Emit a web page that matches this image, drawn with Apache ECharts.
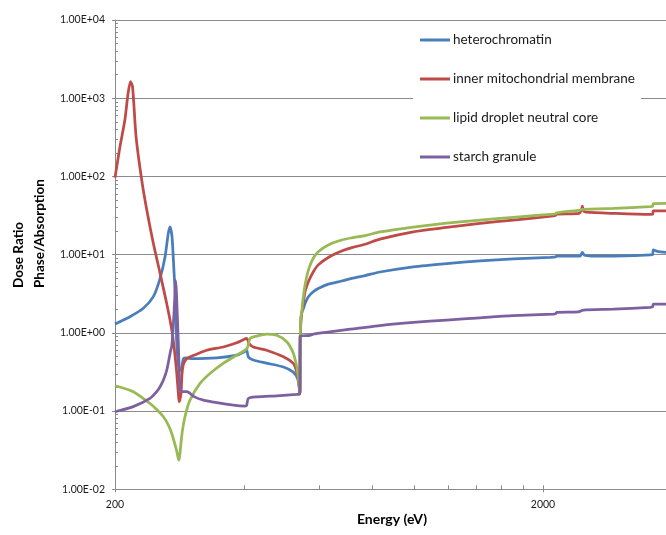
<!DOCTYPE html>
<html>
<head>
<meta charset="utf-8">
<script src="https://cdn.jsdelivr.net/npm/echarts@6.0.0/dist/echarts.min.js"></script>
<style>
html,body{margin:0;padding:0;background:#fff;}
#chart{width:666px;height:535px;}
</style>
</head>
<body>
<div id="chart"></div>
<script>
// ---- data: [energy (eV), dose ratio] ----
const seriesNames = ['heterochromatin', 'inner mitochondrial membrane', 'lipid droplet neutral core', 'starch granule'];

const heterochromatin = [
  [200,1.30],[216.8,1.61],[232.9,2.06],[245.8,2.90],[254.9,4.98],[261.8,9.4],[266.4,18.7],[268.9,22.7],
  [271.8,16.9],[274.6,6.35],[277.2,2.38],[278.4,0.89],[280.5,0.45],[283,0.33],[286,0.36],[289,0.47],
  [292,0.48],[300,0.47],[346,0.48],[385,0.52],[400,0.57],[406,0.60],[410,0.49],[421,0.45],[452,0.41],
  [495,0.366],[522,0.315],[534,0.26],[539,0.20],[541,0.17],[542,0.9],[544,1.5],[547,1.86],[552,2.1],
  [556,2.38],[566,2.9],[581,3.36],[597,3.7],[630,4.2],[677,4.6],[715,4.98],[768,5.4],[832,6.0],
  [995,7.0],[1191,7.7],[1425,8.3],[1705,8.8],[2076,9.24],[2140,9.35],[2150,9.6],[2440,9.6],
  [2472,10.7],[2500,9.8],[2600,9.6],[2919,9.6],[3557,9.9],[3608,10.0],[3620,11.5],[3700,11.0],[3900,10.7]
];

const innerMitochondrialMembrane = [
  [200,96],[205.4,240],[210.9,526],[214.6,1155],[217.4,1625],[219.8,1403],[224,322],[230.9,90],
  [237.3,37.2],[245.8,14.0],[254.9,5.77],[264.1,2.38],[268.9,1.46],[273,0.89],[278.4,0.334],
  [281.2,0.168],[282.4,0.131],[283.6,0.14],[285.3,0.168],[286.9,0.303],[289.5,0.407],[295.2,0.476],
  [306.6,0.52],[327.6,0.60],[358,0.66],[385,0.746],[400,0.824],[406,0.85],[409,0.80],[411,0.734],
  [421,0.66],[452,0.60],[495,0.494],[522,0.407],[530,0.334],[536,0.26],[541,0.17],[542,0.9],
  [544,1.5],[547,1.9],[552,2.6],[556,3.36],[566,4.5],[581,6.0],[597,7.4],[630,9.2],[677,11.1],
  [715,12.3],[768,13.6],[832,15.8],[995,19.6],[1191,22.3],[1425,25.1],[1705,27.7],[2114,31.2],
  [2140,31.8],[2150,33.0],[2430,33.7],[2462,38],[2472,41.8],[2485,36.5],[2520,35.0],[2919,33.7],
  [3557,32.7],[3608,32.8],[3620,36.4],[3900,36.4]
];

const lipidDropletNeutralCore = [
  [200,0.211],[220.6,0.177],[241.4,0.125],[250.3,0.105],[259.5,0.0846],[266.5,0.0662],[271.3,0.052],
  [278.4,0.0317],[281,0.025],[282.2,0.0236],[283.5,0.028],[286.9,0.052],[291.4,0.0846],[299.4,0.138],
  [316,0.226],[333.4,0.303],[358,0.407],[385,0.52],[402.6,0.60],[408,0.65],[409.8,0.70],[413.6,0.85],
  [428.6,0.91],[452.4,0.966],[477.5,0.93],[503.9,0.77],[522,0.547],[531.7,0.369],[536,0.275],
  [540,0.18],[541,0.17],[542,1.0],[544,1.6],[547,1.9],[548,2.27],[556,4.1],[566,6.35],[581,9.0],
  [597,10.9],[630,13.3],[677,15.4],[715,16.4],[768,17.5],[832,19.5],[995,22.5],[1191,25.3],
  [1425,27.7],[1705,30.0],[2114,33.0],[2140,33.3],[2150,34.2],[2440,37.2],[2472,37.8],[2484,38.0],
  [2919,39.1],[3557,41.0],[3608,41.5],[3620,45.0],[3900,45.3]
];

const starchGranule = [
  [200,0.098],[220.6,0.114],[241.4,0.145],[250.3,0.177],[254.9,0.205],[259.5,0.249],[264.2,0.334],
  [269.9,0.60],[271.3,0.66],[273.6,1.20],[275.7,2.63],[277.2,4.7],[278.4,3.2],[281.2,0.73],
  [283.8,0.186],[286.9,0.177],[294.3,0.177],[306.6,0.152],[321.7,0.138],[345.6,0.128],[377.8,0.119],
  [402.6,0.116],[406,0.118],[409.8,0.145],[428.6,0.152],[477.5,0.157],[531.7,0.163],[540,0.165],
  [541.5,0.91],[571,0.93],[581,0.966],[696,1.10],[832,1.24],[995,1.36],[1191,1.46],[1425,1.56],
  [1705,1.66],[2114,1.74],[2140,1.76],[2152,1.83],[2420,1.86],[2484,1.96],[2919,2.01],[3557,2.12],
  [3608,2.15],[3620,2.33],[3900,2.33]
];

const xMajorTicks = [200, 2000, 20000];
const xMinorTicks = [200,400,600,800,1000,1200,1400,1600,1800,2000,4000,6000,8000,10000,12000,14000,16000,18000,20000];
const yMinorTicks = [];
[0.01,0.1,1,10,100,1000].forEach(function(d){ for (let k = 1; k <= 9; k++) yMinorTicks.push(+(d*k).toPrecision(3)); });
yMinorTicks.push(10000);

const colors = ['#4A7EBB', '#BE4B48', '#98B954', '#7D60A0'];
const seriesData = [heterochromatin, innerMitochondrialMembrane, lipidDropletNeutralCore, starchGranule];

function sci(v) {
  const e = Math.round(Math.log10(v));
  const m = v / Math.pow(10, e);
  return m.toFixed(2) + 'E' + (e < 0 ? '-' : '+') + String(Math.abs(e)).padStart(2, '0');
}

const FONT = 'Lato';
const GRID_COLOR = '#8a8a8a';

const chart = echarts.init(document.getElementById('chart'), null, {renderer: 'canvas'});
chart.setOption({
  animation: false,
  backgroundColor: '#ffffff',
  textStyle: {fontFamily: FONT},
  grid: {left: 115, top: 20, right: -305, height: 469.3, containLabel: false, outerBoundsMode: 'none'},
  xAxis: [{
    type: 'log', logBase: 10, min: 200, max: 20000, position: 'bottom',
    axisLine: {show: true, lineStyle: {color: GRID_COLOR, width: 1}},
    axisTick: {show: true, inside: false, length: 3, customValues: xMajorTicks, lineStyle: {color: GRID_COLOR}},
    axisLabel: {show: true, customValues: xMajorTicks, margin: 10, color: '#1a1a1a', fontFamily: FONT, fontSize: 10.5,
      formatter: function (v) { return String(Math.round(v)); }},
    splitLine: {show: false}
  }, {
    type: 'log', logBase: 10, min: 200, max: 20000, position: 'bottom',
    axisLine: {show: false},
    axisTick: {show: true, inside: true, length: 4, customValues: xMinorTicks, lineStyle: {color: GRID_COLOR}},
    axisLabel: {show: false},
    splitLine: {show: false}
  }],
  yAxis: [{
    type: 'log', logBase: 10, min: 0.01, max: 10000, splitNumber: 6, position: 'left',
    axisLine: {show: true, lineStyle: {color: GRID_COLOR, width: 1}},
    axisTick: {show: true, inside: false, length: 3, lineStyle: {color: GRID_COLOR}},
    axisLabel: {show: true, margin: 10, color: '#1a1a1a', fontFamily: FONT, fontSize: 10.5,
      formatter: function (v) { return sci(v); }},
    splitLine: {show: true, lineStyle: {color: GRID_COLOR, width: 1}}
  }, {
    type: 'log', logBase: 10, min: 0.01, max: 10000, position: 'left', offset: 0,
    axisLine: {show: false},
    axisTick: {show: true, inside: true, length: 3, customValues: yMinorTicks, lineStyle: {color: GRID_COLOR}},
    axisLabel: {show: false},
    splitLine: {show: false}
  }],
  legend: {
    orient: 'vertical', left: 413, top: 24,
    itemWidth: 30, itemHeight: 3, itemGap: 25, icon: 'rect',
    padding: [9, 6, 8, 7], backgroundColor: '#ffffff',
    textStyle: {fontFamily: FONT, fontSize: 13.5, color: '#1a1a1a', lineHeight: 14, padding: [0, 0, 0, -2]},
    data: seriesNames
  },
  graphic: [{
    type: 'text', x: 29.5, y: 288, rotation: Math.PI / 2,
    style: {text: 'Dose Ratio\nPhase/Absorption', fontFamily: FONT, fontWeight: 'bold', fontSize: 13.5,
      lineHeight: 21, fill: '#000', align: 'left', verticalAlign: 'middle'}
  }, {
    type: 'text', x: 392, y: 519,
    style: {text: 'Energy (eV)', fontFamily: FONT, fontWeight: 'bold', fontSize: 14,
      fill: '#000', align: 'center', verticalAlign: 'middle'}
  }],
  series: seriesNames.map(function (name, i) {
    return {
      name: name, type: 'line', xAxisIndex: 0, yAxisIndex: 0,
      data: seriesData[i], showSymbol: false, symbol: 'none', smooth: 0.25,
      color: colors[i], lineStyle: {color: colors[i], width: 2.75}, clip: true
    };
  })
});
</script>
</body>
</html>
